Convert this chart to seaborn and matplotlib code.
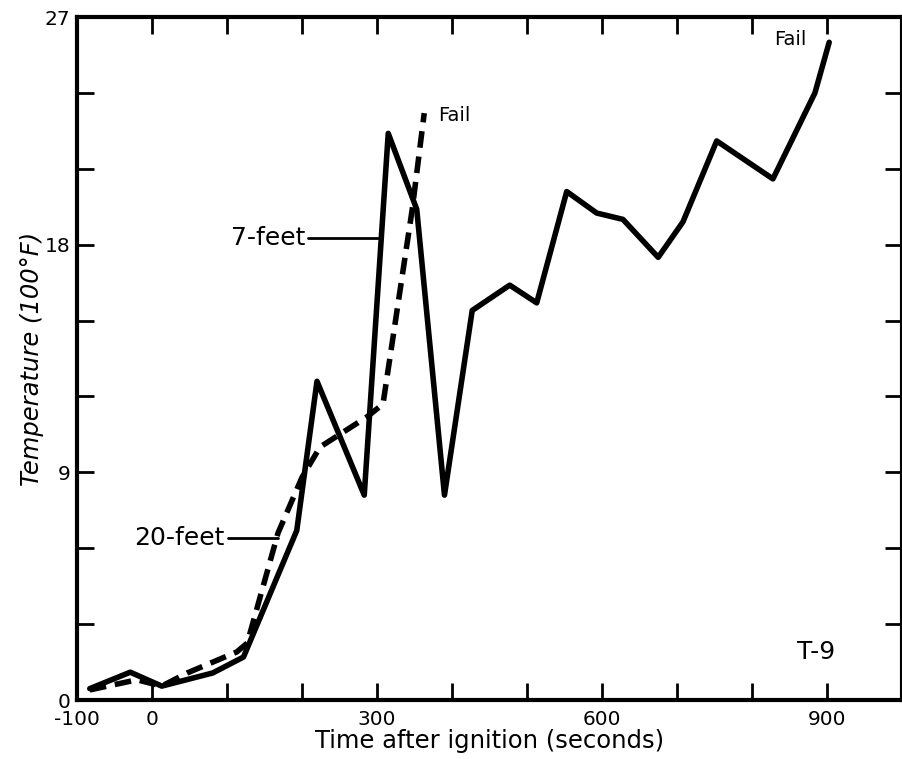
import numpy as np
import pandas as pd
import matplotlib.pyplot as plt
import seaborn as sns

# 7-feet thermocouple (solid)
t_7ft = [-83, -29, 13, 81, 122, 193, 220, 283, 315, 353, 390, 427, 477, 513,
         553, 593, 628, 675, 708, 753, 828, 884, 903]
temp_7ft = [0.45, 1.1, 0.55, 1.07, 1.7, 6.7, 12.6, 8.1, 22.4, 19.4, 8.1, 15.4,
            16.4, 15.7, 20.1, 19.25, 19.0, 17.5, 18.9, 22.1, 20.6, 24.0, 26.0]

# 20-feet thermocouple (dashed)
t_20ft = [-83, -20, 13, 47, 113, 127, 168, 200, 224, 287, 308, 347, 363]
temp_20ft = [0.4, 0.8, 0.55, 1.07, 1.9, 2.25, 6.6, 8.8, 10.0, 11.2, 11.7, 19.4, 23.2]

x_ticks = [-100, 0, 100, 200, 300, 400, 500, 600, 700, 800, 900]
x_labels = ['-100', '0', '', '', '300', '', '', '600', '', '', '900']
y_ticks = [0, 3, 6, 9, 12, 15, 18, 21, 24, 27]
y_labels = ['0', '', '', '9', '', '', '18', '', '', '27']

df = pd.concat([
    pd.DataFrame({'time': t_7ft, 'temp': temp_7ft, 'depth': '7-feet'}),
    pd.DataFrame({'time': t_20ft, 'temp': temp_20ft, 'depth': '20-feet'}),
])

sns.set_style('ticks')
plt.rcParams['font.family'] = ['DejaVu Sans']
plt.rcParams['text.color'] = 'black'
plt.rcParams['axes.labelcolor'] = 'black'
plt.rcParams['xtick.color'] = 'black'
plt.rcParams['ytick.color'] = 'black'
plt.rcParams['axes.edgecolor'] = 'black'

fig = plt.figure(figsize=(9.03, 7.59), dpi=100)
ax = fig.add_axes([0.0853, 0.0777, 0.9135, 0.8999])

sns.lineplot(data=df, x='time', y='temp', style='depth', color='black',
             linewidth=4, dashes={'7-feet': '', '20-feet': (3, 1.6)},
             sort=False, estimator=None, legend=False, ax=ax)

ax.set_xlim(-100, 1000)
ax.set_ylim(0, 27)
ax.set_xticks(x_ticks)
ax.set_xticklabels(x_labels)
ax.set_yticks(y_ticks)
ax.set_yticklabels(y_labels)
ax.tick_params(direction='in', length=12, width=2, labelsize=14.5,
               top=True, right=True)
ax.tick_params(axis='x', pad=7)
ax.tick_params(axis='y', pad=5)
for s in ax.spines.values():
    s.set_linewidth(3)
    s.set_visible(True)

ax.set_xlabel('Time after ignition (seconds)', fontsize=17.5, labelpad=0)
ax.set_ylabel('Temperature (100°F)', fontsize=17.5, style='italic', labelpad=0)

# annotations
ax.text(204, 18.26, '7-feet', fontsize=18, ha='right', va='center')
ax.plot([208, 301], [18.26, 18.26], color='black', lw=2)
ax.text(97, 6.4, '20-feet', fontsize=18, ha='right', va='center')
ax.plot([101, 168], [6.4, 6.4], color='black', lw=2)
ax.text(381, 23.1, 'Fail', fontsize=14, ha='left', va='center')
ax.text(851, 26.1, 'Fail', fontsize=14, ha='center', va='center')
ax.text(885, 1.9, 'T-9', fontsize=18, ha='center', va='center')

fig.savefig('out.png', dpi=100)
